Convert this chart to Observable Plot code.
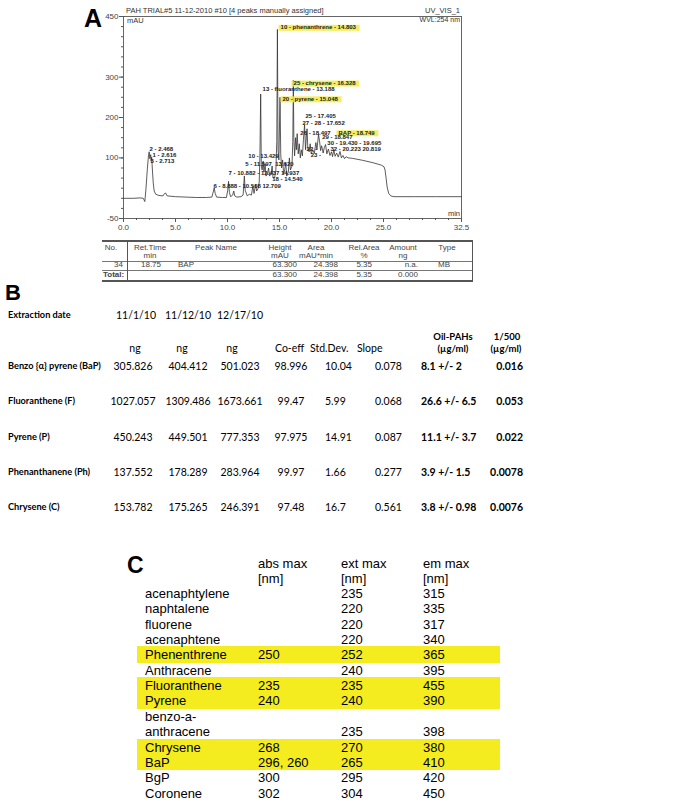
<!DOCTYPE html>
<html><head><meta charset="utf-8">
<script src="https://cdn.jsdelivr.net/npm/d3@7"></script>
<script src="https://cdn.jsdelivr.net/npm/@observablehq/plot@0.6"></script>
<style>
body{margin:0;background:#fff;}
#page{position:relative;width:689px;height:804px;overflow:hidden;font-family:"Liberation Sans",Arial,sans-serif;}
.t{position:absolute;white-space:nowrap;line-height:1;}
.r{position:absolute;}
#chrom{position:absolute;left:0;top:0;}
</style></head><body><div id="page"><div id="chrom"></div></div>
<script>
// ---------- Panel A: chromatogram (time in min, signal in mAU) ----------
const traceTime = [0.0,1.0,1.6,1.9,2.05,2.15,2.3,2.4,2.47,2.53,2.58,2.62,2.66,2.71,2.78,2.86,2.95,3.1,3.4,3.8,3.95,4.05,4.2,5.0,6.0,7.0,8.0,8.5,8.65,8.72,8.82,8.95,9.5,9.9,10.02,10.1,10.18,10.3,10.5,10.6,10.7,10.9,11.3,11.5,11.62,11.7,11.9,12.1,12.3,12.44,12.55,12.71,12.8,12.95,13.05,13.12,13.19,13.25,13.33,13.43,13.5,13.62,13.7,13.85,13.95,14.05,14.2,14.29,14.38,14.54,14.65,14.74,14.80,14.86,14.94,15.05,15.12,15.2,15.3,15.4,15.5,15.6,15.7,15.85,15.95,16.05,16.2,16.28,16.33,16.38,16.45,16.55,16.62,16.7,16.8,16.9,17.0,17.1,17.2,17.3,17.41,17.5,17.58,17.65,17.72,17.85,17.95,18.05,18.2,18.35,18.5,18.6,18.75,18.85,18.95,19.05,19.2,19.3,19.43,19.55,19.7,19.85,20.0,20.1,20.22,20.35,20.5,20.65,20.82,20.95,21.1,21.25,21.4,21.6,22.0,23.0,24.0,24.8,25.05,25.15,25.25,25.35,25.5,25.7,26.0,28.0,30.0,32.5];
const traceMAU = [0,0,1,0,-8,20,75,105,115,98,104,108,92,102,70,38,18,10,7,6,12,13,6,4,3,2,2,3,18,26,12,3,2,2,20,42,15,4,8,18,6,3,4,8,55,20,6,10,8,30,12,35,18,25,40,110,258,80,70,92,65,85,55,60,75,55,62,80,50,52,70,140,418,120,95,250,110,75,95,60,70,88,55,65,100,70,80,140,292,150,105,150,120,160,110,135,100,120,105,145,182,120,150,172,125,115,135,110,120,112,138,120,158,142,118,130,112,125,133,110,122,106,115,103,120,104,112,102,116,100,106,98,103,100,99,94,88,82,78,70,50,28,12,6,4,4,4,4];
const xTickValues = [0, 5, 10, 15, 20, 25, 32.5];
const yTickValues = [-50, 100, 200, 300, 450];
const labelText = ["10 - phenanthrene - 14.803","25 - chrysene - 16.328","13 - fluoranthene - 13.188","20 - pyrene - 15.048","25 - 17.405","27 - 28 - 17.652","26 - 18.497","BAP - 18.749","29 - 18.847","30 - 19.430 - 19.695","32 - 20.223 20.819","22 -","23 -","2 - 2.468","1 - 2.616","3 - 2.713","10 - 13.429","5 - 11.597  13.620","7 - 10.882 - 12.437 14.937","18 - 14.540","6 - 8.888 - 10.508 12.709"];
const labelTime = [15.1,16.35,13.37,15.29,17.5,17.2,17.0,20.67,19.1,19.6,19.9,17.6,18.0,2.5,2.8,2.6,12.0,11.7,10.1,14.3,8.65];
const labelMAU = [423,285,270,246,204,186,162,162,151,137,122,122,107,121,106,91,105,85,62,48,30];
const highlightedLabels = ["10 - phenanthrene - 14.803","25 - chrysene - 16.328","20 - pyrene - 15.048","BAP - 18.749"];
const chromTitle = "PAH TRIAL#5 11-12-2010 #10 [4 peaks manually assigned]";
const chromChannel = ["UV_VIS_1", "WVL:254 nm"];

// Panel A peak table
const aHeader1 = ["No.","Ret.Time","Peak Name","Height","Area","Rel.Area","Amount","Type"];
const aHeader2 = ["","min","","mAU","mAU*min","%","ng",""];
const aRow = ["34","18.75","BAP","63.300","24.398","5.35","n.a.","MB"];
const aTotal = ["Total:","","","63.300","24.398","5.35","0.000",""];

// ---------- Panel B ----------
const bDates = ["11/1/10","11/12/10","12/17/10"];
const bUnits = ["ng","ng","ng","Co-eff","Std.Dev.","Slope"];
const bCompounds = ["Benzo {α} pyrene (BaP)","Fluoranthene (F)","Pyrene (P)","Phenanthanene (Ph)","Chrysene (C)"];
const bNg1 = ["305.826","1027.057","450.243","137.552","153.782"];
const bNg2 = ["404.412","1309.486","449.501","178.289","175.265"];
const bNg3 = ["501.023","1673.661","777.353","283.964","246.391"];
const bCoeff = ["98.996","99.47","97.975","99.97","97.48"];
const bStd = ["10.04","5.99","14.91","1.66","16.7"];
const bSlope = ["0.078","0.068","0.087","0.277","0.561"];
const bOil = ["8.1 +/- 2","26.6 +/- 6.5","11.1 +/- 3.7","3.9 +/- 1.5","3.8 +/- 0.98"];
const bRatio = ["0.016","0.053","0.022","0.0078","0.0076"];

// ---------- Panel C ----------
const cHeaders = ["abs max","ext max","em max"];
const cNames = ["acenaphtylene","naphtalene","fluorene","acenaphtene","Phenenthrene","Anthracene","Fluoranthene","Pyrene","benzo-a-anthracene","Chrysene","BaP","BgP","Coronene"];
const cAbs = ["","","","","250","","235","240","","268","296, 260","300","302"];
const cExt = ["235","220","220","220","252","240","235","240","235","270","265","295","304"];
const cEm = ["315","335","317","340","365","395","455","390","398","380","410","420","450"];
const cHighlighted = ["Phenenthrene","Fluoranthene","Pyrene","Chrysene","BaP"];

// ---------- helpers ----------
const page = document.getElementById("page");
function put(text, x, y, o = {}) {
  const d = document.createElement("div");
  d.className = "t";
  d.textContent = text;
  const ax = o.align === "center" ? "-50%" : o.align === "right" ? "-100%" : "0";
  d.style.left = x + "px"; d.style.top = y + "px";
  d.style.transform = `translate(${ax}, -50%)`;
  if (o.size) d.style.fontSize = o.size + "px";
  if (o.weight) d.style.fontWeight = o.weight;
  if (o.family) d.style.fontFamily = o.family;
  d.style.color = o.color || "#000";
  page.appendChild(d);
  return d;
}
function rect(x, y, w, h, color) {
  const d = document.createElement("div");
  d.className = "r";
  Object.assign(d.style, {left: x + "px", top: y + "px", width: w + "px", height: h + "px", background: color});
  page.appendChild(d);
  return d;
}

// ---------- Chromatogram ----------
const trace = traceTime.map((t, i) => ({t, v: traceMAU[i]}));
const labels = labelText.map((s, i) => ({s, t: labelTime[i], v: labelMAU[i]}));
const chart = Plot.plot({
  width: 689, height: 240,
  marginLeft: 123, marginRight: 228, marginTop: 16, marginBottom: 22,
  style: {fontFamily: "Liberation Sans, Arial, sans-serif", fontSize: "8px", color: "#444", background: "transparent", overflow: "visible"},
  x: {domain: [0, 32.5], label: null},
  y: {domain: [-50, 450], label: null},
  marks: [
    Plot.axisX({ticks: d3.range(0, 32.51, 1.25), tickSize: 2, tickFormat: () => "", label: null, stroke: "#555"}),
    Plot.axisY({ticks: d3.range(-50, 451, 25), tickSize: 2, tickFormat: () => "", label: null, stroke: "#555"}),
    Plot.axisX({ticks: xTickValues, tickSize: 4, tickPadding: 2, tickFormat: d => d.toFixed(1), label: null, stroke: "#555"}),
    Plot.axisY({ticks: yTickValues, tickSize: 4, tickPadding: 1, tickFormat: d => String(d), label: null, stroke: "#555"}),
    Plot.frame({stroke: "#555", strokeWidth: 0.9}),
    Plot.line(trace, {x: "t", y: "v", stroke: "#333", strokeWidth: 0.8}),
    Plot.text(labels, {x: "t", y: "v", text: "s", textAnchor: "start", fontSize: 6, fontWeight: "bold", fill: "#222"})
  ]
});
document.getElementById("chrom").appendChild(chart);
// highlighter behind the manually assigned peak labels
chart.querySelectorAll('g[aria-label="text"] text').forEach(el => {
  if (!highlightedLabels.includes(el.textContent)) return;
  const b = el.getBBox();
  const r = document.createElementNS("http://www.w3.org/2000/svg", "rect");
  r.setAttribute("x", b.x - 2); r.setAttribute("y", b.y + 0.5);
  r.setAttribute("width", b.width + 5); r.setAttribute("height", b.height);
  r.setAttribute("fill", "#f2ea45"); r.setAttribute("opacity", "0.85");
  if (el.getAttribute("transform")) r.setAttribute("transform", el.getAttribute("transform"));
  el.parentNode.insertBefore(r, el);
});

const gray = "#333";
put("A", 84, 18, {size: 25, weight: "bold", family: "Liberation Sans, Arial"});
put(chromTitle, 126, 11, {size: 7.5, color: gray});
put("mAU", 127, 21, {size: 7.5, color: gray});
put(chromChannel[0], 460, 11, {size: 7.5, align: "right", color: gray});
put(chromChannel[1], 460, 19, {size: 7, align: "right", color: gray});
put("min", 460, 214, {size: 7.5, align: "right", color: gray});

// Panel A table
const tc = "#444";
rect(102, 240, 371, 1.5, "#555");
rect(102, 261, 371, 1, "#777");
rect(102, 269.5, 371, 1, "#777");
rect(102, 280, 371, 1.5, "#555");
rect(127, 240, 1, 41, "#555");
rect(472, 240, 1.3, 41, "#555");
const aCenters = [111, 150, 216, 280, 316, 364, 403, 447];
aHeader1.forEach((s, i) => put(s, aCenters[i], 247.5, {size: 8, align: "center", color: tc}));
aHeader2.forEach((s, i) => s && put(s, aCenters[i], 256, {size: 8, align: "center", color: tc}));
const aPos = [[123, "right"], [151, "center"], [178, "left"], [297, "right"], [338, "right"], [372, "right"], [418, "right"], [444, "center"]];
aRow.forEach((s, i) => put(s, aPos[i][0], 265, {size: 8, align: aPos[i][1], color: tc}));
aTotal.forEach((s, i) => {
  if (!s) return;
  if (i === 0) put(s, 103, 275, {size: 8, weight: "bold", color: tc});
  else put(s, aPos[i][0], 275, {size: 8, align: "right", color: tc});
});

// ---------- Panel B ----------
const bf = "Lato, 'Open Sans', sans-serif";
put("B", 5, 293, {size: 22, weight: "bold", family: "Liberation Sans, Arial"});
put("Extraction date", 8, 315, {size: 9.2, weight: "bold", family: bf});
[136, 188, 240].forEach((x, i) => put(bDates[i], x, 315, {size: 10.5, align: "center", family: bf}));
const unitPos = [[135, "center"], [182, "center"], [232, "center"], [275, "left"], [310, "left"], [357, "left"]];
bUnits.forEach((s, i) => put(s, unitPos[i][0], 348, {size: 10.5, align: unitPos[i][1], family: bf}));
put("Oil-PAHs", 453, 337, {size: 9.5, weight: "bold", align: "center", family: bf});
put("(µg/ml)", 453, 349, {size: 9.5, weight: "bold", align: "center", family: bf});
put("1/500", 507, 337, {size: 9.5, weight: "bold", align: "center", family: bf});
put("(µg/ml)", 506, 349, {size: 9.5, weight: "bold", align: "center", family: bf});
bCompounds.forEach((name, i) => {
  const y = 366 + i * 35.3;
  put(name, 8, y, {size: 9.2, weight: "bold", family: bf});
  put(bNg1[i], 133, y, {size: 10.5, align: "center", family: bf});
  put(bNg2[i], 188, y, {size: 10.5, align: "center", family: bf});
  put(bNg3[i], 240, y, {size: 10.5, align: "center", family: bf});
  put(bCoeff[i], 291, y, {size: 10.5, align: "center", family: bf});
  put(bStd[i], 325, y, {size: 10.5, family: bf});
  put(bSlope[i], 375, y, {size: 10.5, family: bf});
  put(bOil[i], 421, y, {size: 10.5, weight: "bold", family: bf});
  put(bRatio[i], 523, y, {size: 10.5, weight: "bold", align: "right", family: bf});
});

// ---------- Panel C ----------
const cf = "Liberation Sans, Arial, sans-serif";
const cx = [258, 341, 423];
put("C", 127, 565, {size: 23, weight: "bold", family: cf});
cHeaders.forEach((h, i) => { put(h, cx[i], 563, {size: 13, family: cf}); put("[nm]", cx[i], 578, {size: 13, family: cf}); });
// layout lines (a long name wraps after its last hyphen)
const cLines = [];
cNames.forEach((n, i) => {
  if (n.length > 14) {
    const k = n.lastIndexOf("-", 14) + 1;
    cLines.push({name: n.slice(0, k), row: -1});
    cLines.push({name: n.slice(k), row: i});
  } else cLines.push({name: n, row: i});
});
const lineY = j => 593 + j * 15.35;
cLines.forEach((l, j) => {
  if (l.row >= 0 && cHighlighted.includes(cNames[l.row])) rect(137, lineY(j) - 8, 363, 16.4, "#f4ec1e");
});
cLines.forEach((l, j) => {
  const y = lineY(j);
  put(l.name, 145, y, {size: 13, family: cf});
  if (l.row < 0) return;
  if (cAbs[l.row]) put(cAbs[l.row], cx[0], y, {size: 13, family: cf});
  put(cExt[l.row], cx[1], y, {size: 13, family: cf});
  put(cEm[l.row], cx[2], y, {size: 13, family: cf});
});
</script>
</body></html>
